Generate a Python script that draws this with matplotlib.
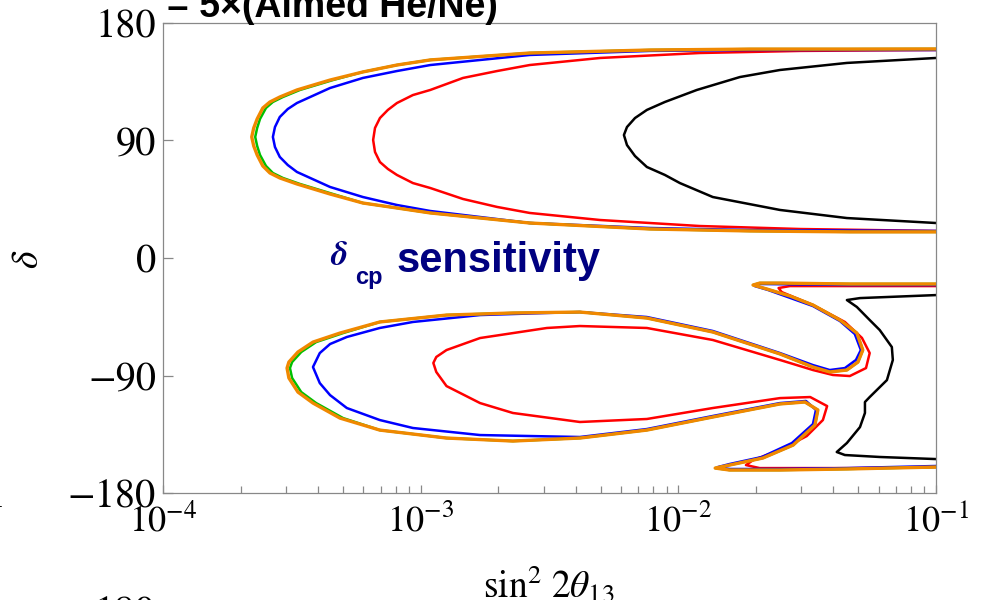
import matplotlib
matplotlib.use("Agg")
import matplotlib.pyplot as plt
from matplotlib.ticker import LogLocator, NullFormatter

# sin^2 2theta13 (x) and delta in degrees (y)
# --- upper region (delta > 0) ---
orange_up_x = [0.1, 0.0463, 0.0190, 0.00776, 0.00265, 0.00109, 8.09e-4, 5.97e-4, 4.45e-4, 3.31e-4,
               2.84e-4, 2.60e-4, 2.44e-4, 2.32e-4, 2.25e-4, 2.21e-4, 2.25e-4, 2.32e-4, 2.44e-4,
               2.60e-4, 2.84e-4, 3.31e-4, 4.45e-4, 5.97e-4, 8.09e-4, 0.00109, 0.00265, 0.00776,
               0.0190, 0.0463, 0.1]
orange_up_d = [160.1, 160.0, 160.0, 159.3, 157.0, 151.7, 147.8, 142.5, 136.3, 128.7,
               123.3, 119.5, 114.9, 106.5, 99.6, 92.7, 85.8, 78.9, 70.5,
               65.1, 61.3, 56.7, 49.0, 42.1, 38.3, 34.5, 26.8, 22.2,
               20.7, 20.0, 20.0]

green_up_x = [0.1, 0.0463, 0.0190, 0.00776, 0.00265, 0.00109, 8.09e-4, 5.97e-4, 4.57e-4, 3.40e-4,
              2.92e-4, 2.67e-4, 2.51e-4, 2.38e-4, 2.32e-4, 2.28e-4, 2.32e-4, 2.38e-4, 2.51e-4,
              2.67e-4, 2.92e-4, 3.40e-4, 4.57e-4, 5.97e-4, 8.09e-4, 0.00109, 0.00265, 0.00776,
              0.0190, 0.0463, 0.1]
green_up_d = orange_up_d

blue_up_x = [0.1, 0.0190, 0.00776, 0.00265, 0.00109, 8.09e-4, 5.97e-4, 4.45e-4, 3.31e-4, 3.05e-4,
             2.84e-4, 2.72e-4, 2.67e-4, 2.72e-4, 2.84e-4, 3.05e-4, 3.31e-4, 4.45e-4, 5.97e-4,
             8.09e-4, 0.00109, 0.00265, 0.00776, 0.0190, 0.1]
blue_up_d = [159.3, 159.3, 158.6, 155.5, 147.8, 143.2, 137.9, 130.2, 118.7, 114.1,
             108.0, 100.3, 92.7, 85.0, 77.4, 71.2, 65.9, 54.4, 46.7,
             40.6, 36.0, 26.8, 23.0, 21.4, 20.7]

red_up_x = [0.1, 0.0297, 0.0121, 0.00497, 0.00265, 0.00198, 0.00146, 0.00109, 9.33e-4, 8.09e-4,
            7.46e-4, 6.95e-4, 6.65e-4, 6.54e-4, 6.65e-4, 6.95e-4, 7.46e-4, 8.09e-4, 9.33e-4,
            0.00109, 0.00146, 0.00198, 0.00265, 0.00497, 0.0121, 0.0297, 0.1]
red_up_d = [159.3, 158.6, 157.0, 153.2, 147.8, 143.2, 137.9, 128.7, 124.8, 118.7,
            113.4, 107.2, 99.6, 90.4, 81.2, 73.5, 68.2, 63.6, 57.4,
            53.6, 45.2, 39.1, 34.5, 29.1, 24.5, 22.2, 20.7]

black_up_x = [0.1, 0.0451, 0.0248, 0.01734, 0.0118, 0.00887, 0.00755, 0.00679, 0.00632, 0.00615,
              0.00632, 0.00679, 0.00755, 0.00887, 0.01014, 0.01361, 0.0248, 0.0451, 0.1]
black_up_d = [153.2, 149.4, 144.0, 138.6, 128.7, 119.5, 113.4, 107.2, 100.3, 94.2,
              86.5, 78.1, 69.7, 63.6, 57.4, 46.7, 36.8, 30.6, 26.8]

# --- lower region (delta < 0) ---
orange_lo_x = [0.1, 0.0463, 0.0248, 0.0207, 0.0195, 0.0221, 0.0271, 0.0333, 0.0424, 0.0493,
               0.0520, 0.0498, 0.0451, 0.0387, 0.0333, 0.0248, 0.01361, 0.00755, 0.00415, 0.00228,
               0.00126, 6.94e-4, 4.86e-4, 3.82e-4, 3.34e-4, 3.08e-4, 3.03e-4, 3.08e-4, 3.34e-4,
               3.82e-4, 4.86e-4, 6.94e-4, 0.00126, 0.00228, 0.00415, 0.00755, 0.01361, 0.0248,
               0.0310, 0.0348, 0.0339, 0.0279, 0.0213, 0.0158, 0.0139, 0.0158, 0.0248, 0.0451, 0.1]
orange_lo_d = [-19.9, -19.9, -19.2, -19.2, -20.7, -23.8, -29.1, -36.0, -47.5, -57.5,
               -70.5, -79.7, -85.8, -87.3, -83.5, -73.5, -56.7, -46.0, -41.4, -42.1,
               -43.7, -49.0, -57.5, -64.4, -72.0, -79.7, -84.3, -91.9, -102.7,
               -111.1, -122.6, -131.8, -137.9, -140.2, -137.9, -131.8, -121.8, -111.8,
               -110.3, -116.4, -127.9, -143.3, -153.2, -158.6, -160.9, -162.4, -162.4, -161.6, -160.1]

green_lo_x = [0.1, 0.0463, 0.0248, 0.0207, 0.0195, 0.0221, 0.0271, 0.0333, 0.0424, 0.0493,
              0.0520, 0.0498, 0.0451, 0.0387, 0.0333, 0.0248, 0.01361, 0.00755, 0.00415, 0.00228,
              0.00126, 6.94e-4, 5.00e-4, 3.93e-4, 3.44e-4, 3.17e-4, 3.11e-4, 3.17e-4, 3.44e-4,
              3.93e-4, 5.00e-4, 6.94e-4, 0.00126, 0.00228, 0.00415, 0.00755, 0.01361, 0.0248,
              0.0310, 0.0348, 0.0339, 0.0279, 0.0213, 0.0158, 0.0139, 0.0158, 0.0248, 0.0451, 0.1]
green_lo_d = orange_lo_d

blue_lo_x = [0.1, 0.0463, 0.0207, 0.0198, 0.0223, 0.0333, 0.0424, 0.0484, 0.0511, 0.0489,
             0.0443, 0.0387, 0.0333, 0.0248, 0.01361, 0.00755, 0.00415, 0.00309, 0.00170, 9.33e-4,
             6.94e-4, 5.17e-4, 4.45e-4, 4.06e-4, 3.82e-4, 4.06e-4, 4.45e-4, 5.17e-4, 6.94e-4,
             9.33e-4, 0.00170, 0.00415, 0.00755, 0.01361, 0.0248, 0.0313, 0.0342, 0.0333, 0.0276,
             0.0211, 0.0158, 0.01425, 0.0158, 0.0248, 0.0451, 0.1]
blue_lo_d = [-20.7, -20.7, -19.9, -21.5, -24.5, -36.8, -48.3, -58.2, -70.5, -78.1,
             -84.3, -85.8, -82.0, -72.8, -55.9, -45.2, -41.4, -42.1, -43.7, -49.0,
             -53.6, -60.5, -65.9, -72.8, -83.5, -95.8, -105.0, -114.9, -124.1,
             -130.2, -135.6, -137.1, -131.0, -121.0, -111.1, -109.5, -116.4, -127.2, -141.7,
             -152.4, -157.8, -160.1, -161.6, -161.6, -160.9, -159.3]

red_lo_x = [0.1, 0.0463, 0.0271, 0.0245, 0.0252, 0.0333, 0.0443, 0.0516, 0.0553, 0.0535,
            0.0463, 0.0398, 0.0333, 0.0248, 0.01361, 0.00755, 0.00415, 0.00309, 0.00170, 0.00126,
            0.00115, 0.00112, 0.00115, 0.00126, 0.00170, 0.00228, 0.00415, 0.00755, 0.01361,
            0.0248, 0.0325, 0.0378, 0.0364, 0.0315, 0.0248, 0.0195, 0.0183, 0.0207, 0.0463, 0.1]
red_lo_d = [-21.5, -21.5, -21.5, -23.0, -26.1, -36.0, -49.0, -61.2, -72.8, -84.3,
            -90.4, -89.6, -85.8, -78.1, -62.8, -53.6, -52.1, -53.6, -61.3, -70.5,
            -75.8, -80.4, -87.3, -98.1, -111.1, -118.7, -125.6, -123.3, -114.9,
            -107.3, -106.5, -113.4, -124.1, -136.4, -147.1, -154.8, -158.6, -160.9, -160.9, -160.1]

black_lo_x = [0.1, 0.0507, 0.0451, 0.0493, 0.0553, 0.0605, 0.0674, 0.0680, 0.0645, 0.0553,
              0.0530, 0.0530, 0.0507, 0.0451, 0.0412, 0.0443, 0.0605, 0.1]
black_lo_d = [-28.4, -30.7, -32.2, -37.5, -47.5, -55.2, -68.2, -78.1, -93.5, -106.5,
              -110.3, -118.7, -129.5, -141.7, -148.6, -150.9, -152.4, -154.0]

plt.rcParams['font.family'] = 'STIXGeneral'
plt.rcParams['mathtext.fontset'] = 'stix'

fig = plt.figure(figsize=(9.89, 6.0), dpi=100)
ax = fig.add_axes([0.1648, 0.1783, 0.7816, 0.7834])

style = dict(solid_joinstyle='round', solid_capstyle='round')
ax.plot(black_up_x, black_up_d, color='black', lw=1.8, zorder=2, **style)
ax.plot(black_lo_x, black_lo_d, color='black', lw=1.8, zorder=2, **style)
ax.plot(red_up_x, red_up_d, color='#ff0000', lw=1.8, zorder=3, **style)
ax.plot(red_lo_x, red_lo_d, color='#ff0000', lw=1.8, zorder=3, **style)
ax.plot(blue_up_x, blue_up_d, color='#0000ff', lw=1.8, zorder=4, **style)
ax.plot(blue_lo_x, blue_lo_d, color='#0000ff', lw=1.8, zorder=4, **style)
ax.plot(green_up_x, green_up_d, color='#00c000', lw=1.8, zorder=5, **style)
ax.plot(green_lo_x, green_lo_d, color='#00c000', lw=1.8, zorder=5, **style)
ax.plot(orange_up_x, orange_up_d, color='#f08800', lw=2.4, zorder=6, **style)
ax.plot(orange_lo_x, orange_lo_d, color='#f08800', lw=2.4, zorder=6, **style)

ax.set_xscale('log')
ax.set_xlim(1e-4, 1e-1)
ax.set_ylim(-180, 180)
ax.set_yticks([-180, -90, 0, 90, 180])
ax.xaxis.set_minor_locator(LogLocator(base=10, subs=range(2, 10)))
ax.xaxis.set_minor_formatter(NullFormatter())

for s in ax.spines.values():
    s.set_color('#888888')
    s.set_linewidth(0.9)
ax.tick_params(axis='both', which='both', direction='in', color='#888888',
               top=False, right=False, width=0.9)
ax.tick_params(axis='y', length=7, pad=5, labelsize=29)
ax.tick_params(axis='x', which='major', length=5.5, pad=8, labelsize=26)
ax.tick_params(axis='x', which='minor', length=5)

# annotations
fig.text(330 / 989, 1 - 265 / 600, 'δ', color='#000080', fontsize=25,
         style='italic', weight='bold', family='STIXGeneral')
fig.text(355 / 989, 1 - 284 / 600, 'cp', color='#000080', fontsize=17,
         weight='bold', family='Liberation Sans')
fig.text(397 / 989, 1 - 272 / 600, 'sensitivity', color='#000080', fontsize=30,
         weight='bold', family='Liberation Sans')

fig.text(167 / 989, 1 - 17 / 600, '= 5×(Aimed He/Ne)', color='black', fontsize=27,
         weight='bold', family='Liberation Sans', ha='left', va='baseline')

fig.text(549 / 989, 3 / 600, r'$\sin^2\,2\theta_{13}$', fontsize=27,
         ha='center', va='baseline')
fig.text(29 / 989, 1 - 259 / 600, r'$\delta$', fontsize=27, rotation=90,
         ha='center', va='center')

# fragments of neighbouring panels
fig.text(5 / 989, 1 - 507 / 600, '1', fontsize=20, ha='right', va='baseline')
fig.text(155 / 989, 1 - 596 / 600, '180', fontsize=29, ha='right', va='top')

fig.savefig('out.png', dpi=100)
